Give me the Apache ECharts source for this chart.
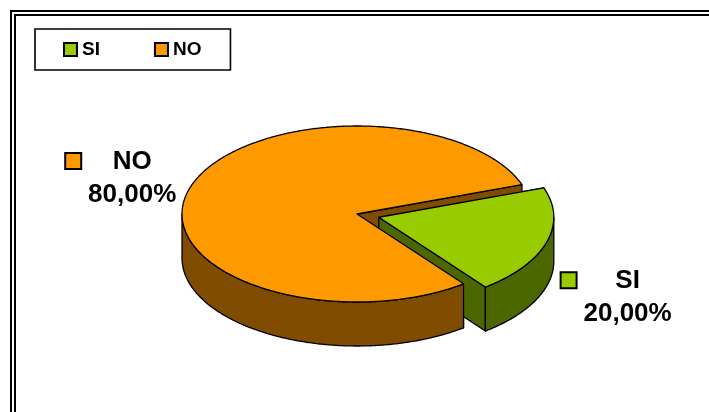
<!DOCTYPE html>
<html>
<head>
<meta charset="utf-8">
<script src="https://cdn.jsdelivr.net/npm/echarts@6/dist/echarts.min.js"></script>
<style>
  html, body { margin: 0; padding: 0; background: #fff; }
  #chart { width: 709px; height: 412px; }
</style>
</head>
<body>
<div id="chart"></div>
<script>
const categories = ['SI', 'NO'];
const values = [20, 80];

const topColors = { SI: '#99CC00', NO: '#FF9900' };
const sideColors = { SI: '#4C6600', NO: '#7F4C00' };
const explode = { SI: 0.13, NO: 0 };

// projected pie geometry (ellipse of the top face, thickness)
const CX = 357, CY = 214, RX = 175, RY = 88, DEPTH = 44;
const START = -19.5 * Math.PI / 180;
const FONT = '"Liberation Sans", Arial, sans-serif';

const total = values.reduce((a, b) => a + b, 0);

function fmtPct(v) {
  return (v / total * 100).toFixed(2).replace('.', ',') + '%';
}

function sliceAngles(idx) {
  let a0 = START;
  for (let j = 0; j < idx; j++) a0 += values[j] / total * Math.PI * 2;
  return [a0, a0 + values[idx] / total * Math.PI * 2];
}

function renderSlice(idx) {
  return function (params, api) {
    const name = categories[idx];
    const [a0, a1] = sliceAngles(idx);
    const mid = (a0 + a1) / 2;
    const ex = explode[name];
    const ox = CX + ex * RX * Math.cos(mid);
    const oy = CY + ex * RY * Math.sin(mid);
    const P = (t, dz) => [ox + RX * Math.cos(t), oy + RY * Math.sin(t) + dz];
    const arc = (ta, tb, dz) => {
      const n = Math.max(2, Math.ceil(Math.abs(tb - ta) / 0.01));
      const pts = [];
      for (let k = 0; k <= n; k++) pts.push(P(ta + (tb - ta) * k / n, dz));
      return pts;
    };
    const side = sideColors[name], top = topColors[name];
    const poly = (points, fill, z2) => ({
      type: 'polygon',
      z2,
      shape: { points },
      style: { fill, stroke: '#000', lineWidth: 1.3, lineJoin: 'round' }
    });
    // paint layers: inner walls of every slice go first (exploded ones last among them),
    // then the joined slices, then the exploded slice's rim and top
    const zFront = ex > 0 ? 3 : 2;
    const zOuter = ex > 0 ? 6 : 4;
    const zTop = ex > 0 ? 7 : 5;
    const radial = (t, z2) => poly([[ox, oy], P(t, 0), P(t, DEPTH), [ox, oy + DEPTH]], side, z2);

    // radial walls: the a0 edge faces a0 - 90deg, the a1 edge faces a1 + 90deg
    const parts = [];
    parts.push(radial(a0, Math.sin(a0 - Math.PI / 2) > 0 ? zFront : 1));
    parts.push(radial(a1, Math.sin(a1 + Math.PI / 2) > 0 ? zFront : 1));

    // curved outer wall, only the half facing the viewer
    for (let k = -1; k <= 1; k++) {
      const lo = Math.max(a0, k * 2 * Math.PI);
      const hi = Math.min(a1, k * 2 * Math.PI + Math.PI);
      if (hi > lo) parts.push(poly(arc(lo, hi, 0).concat(arc(hi, lo, DEPTH)), side, zOuter));
    }
    parts.push(poly([[ox, oy]].concat(arc(a0, a1, 0)), top, zTop));

    // outside label: marker + name, percent below
    const lp = P(mid, 0);
    const lx = Math.cos(mid) >= 0 ? lp[0] + 81 : lp[0] - 57;
    const ly = lp[1] + (Math.sin(mid) > 0 ? DEPTH + 11 : -11);
    const txt = (text, y) => ({
      type: 'text',
      z2: 10,
      style: { text, x: lx, y, fill: '#000', font: 'bold 26px ' + FONT, align: 'center', verticalAlign: 'middle' }
    });
    parts.push(
      { type: 'rect', z2: 10, shape: { x: lx - 67, y: ly - 25, width: 16, height: 16 },
        style: { fill: top, stroke: '#000', lineWidth: 2 } },
      txt(name, ly - 16),
      txt(fmtPct(values[idx]), ly + 17)
    );
    return { type: 'group', children: parts };
  };
}

const chart = echarts.init(document.getElementById('chart'));
chart.setOption({
  animation: false,
  legend: {
    data: categories,
    left: 35,
    top: 29,
    padding: [11, 29, 11, 28],
    itemGap: 54,
    itemWidth: 13,
    itemHeight: 13,
    icon: 'rect',
    borderColor: '#000',
    borderWidth: 1.6,
    selectedMode: false,
    itemStyle: { borderColor: '#000', borderWidth: 2 },
    textStyle: { fontFamily: FONT, fontWeight: 'bold', fontSize: 19, color: '#000' }
  },
  graphic: [
    { type: 'rect', silent: true, shape: { x: 11, y: 11, width: 800, height: 500 },
      style: { fill: 'none', stroke: '#000', lineWidth: 2 } },
    { type: 'rect', silent: true, shape: { x: 15, y: 15, width: 800, height: 500 },
      style: { fill: 'none', stroke: '#000', lineWidth: 2 } }
  ],
  series: categories.map((name, idx) => ({
    type: 'custom',
    name,
    coordinateSystem: 'none',
    silent: true,
    itemStyle: { color: topColors[name] },
    data: [values[idx]],
    renderItem: renderSlice(idx)
  }))
});
</script>
</body>
</html>
